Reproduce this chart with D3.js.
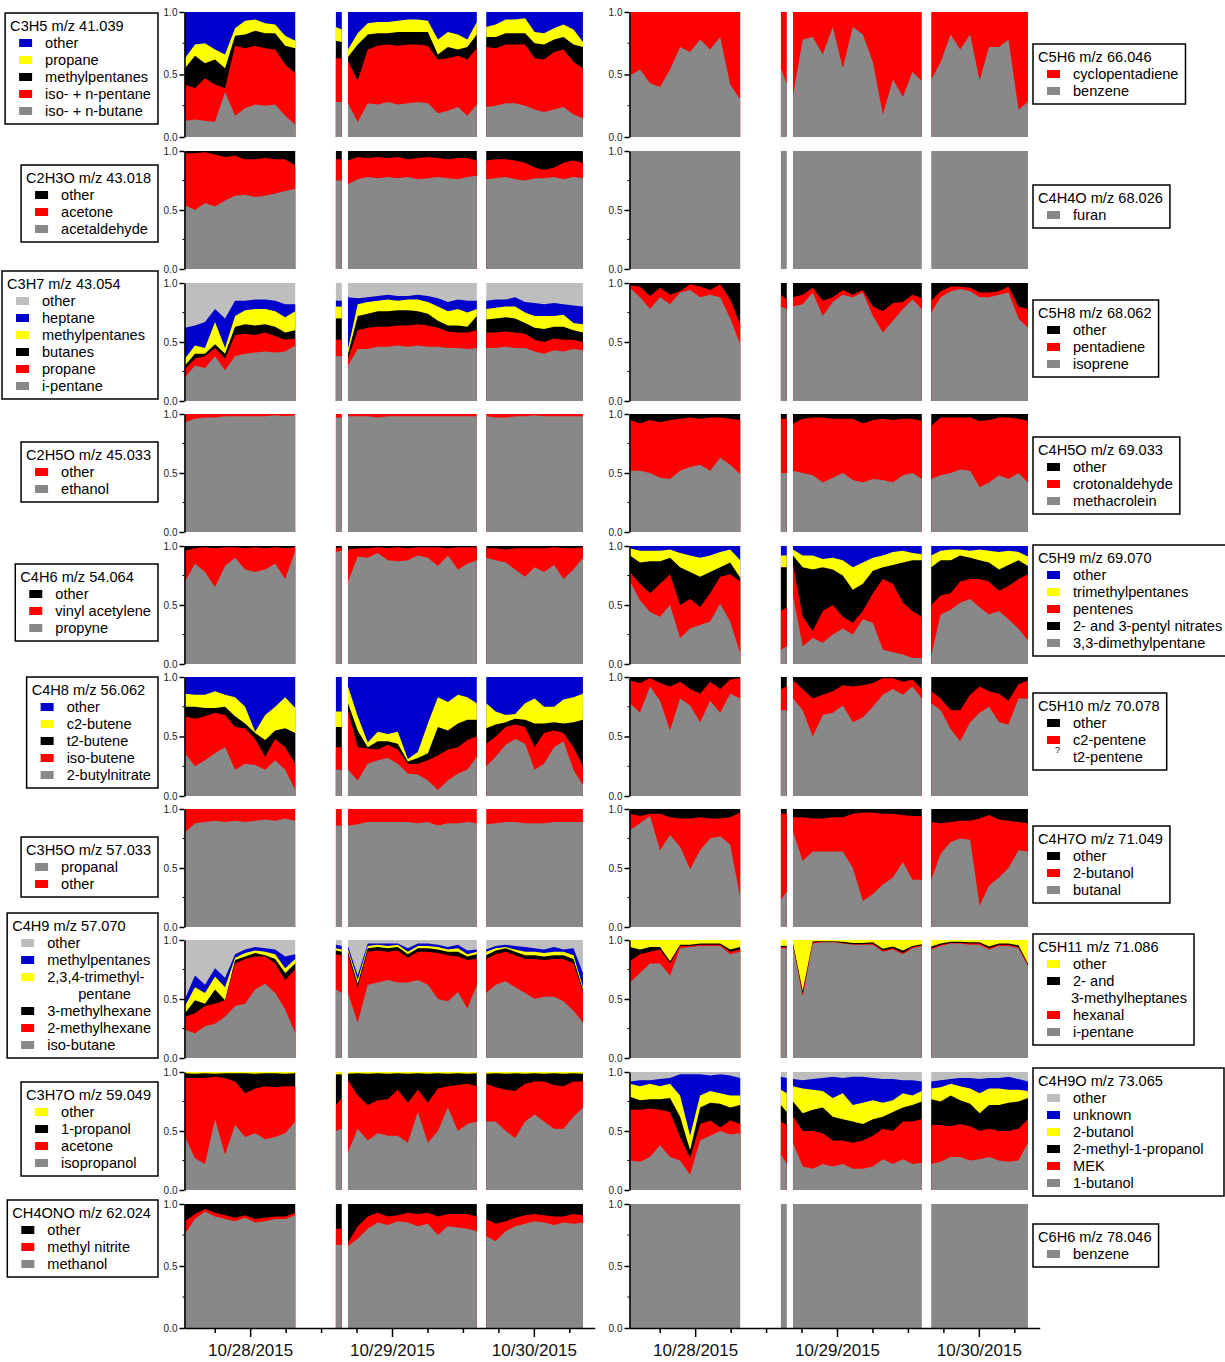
<!DOCTYPE html>
<html>
<head>
<meta charset="utf-8">
<script src="https://cdn.jsdelivr.net/npm/d3@7"></script>
<style>
  body { margin: 0; background: #fff; }
  svg { display: block; }
</style>
</head>
<body>
<div id="chart"></div>
<script>
// ── Sample times, hours from 10/28/2015 00:00 (one block per sampling period) ──
const T_A = [-11.2, -9.5, -7.8, -6.1, -4.4, -2.7, -1.0, 0.7, 2.4, 4.1, 5.8, 7.5];
const T_S = [14.4, 15.4];
const T_B = [16.45, 18.1, 19.8, 21.5, 23.2, 24.9, 26.6, 28.3, 30.0, 31.7, 33.4, 35.1, 36.7, 38.3];
const T_C = [39.9, 41.5, 43.2, 44.8, 46.5, 48.1, 49.7, 51.4, 53.0, 54.7, 56.3];
const AXIS_END = 58.3;
const DATE_LABELS = ['10/28/2015', '10/29/2015', '10/30/2015'];

// ── Cumulative fraction at the top of each layer (bottom layer first) ─────────
// every array: 12 values for T_A | 2 for T_S | 14 for T_B | 11 for T_C

// C3H5 m/z 41.039
const C3H5_1 = [0.13,0.14,0.13,0.12,0.36,0.17,0.23,0.26,0.25,0.26,0.17,0.10, 0.28,0.28, 0.27,0.12,0.27,0.26,0.28,0.26,0.27,0.28,0.27,0.19,0.21,0.24,0.17,0.26, 0.24,0.25,0.27,0.27,0.25,0.22,0.20,0.22,0.24,0.18,0.15];
const C3H5_2 = [0.42,0.39,0.47,0.42,0.39,0.73,0.71,0.73,0.71,0.70,0.58,0.51, 0.63,0.63, 0.61,0.45,0.70,0.73,0.74,0.73,0.74,0.74,0.73,0.62,0.63,0.65,0.62,0.71, 0.72,0.71,0.74,0.74,0.74,0.63,0.62,0.68,0.70,0.60,0.55];
const C3H5_3 = [0.55,0.65,0.59,0.62,0.55,0.81,0.82,0.85,0.83,0.83,0.73,0.71, 0.77,0.76, 0.64,0.74,0.82,0.83,0.83,0.84,0.84,0.84,0.84,0.66,0.72,0.70,0.72,0.82, 0.80,0.80,0.83,0.83,0.83,0.75,0.74,0.78,0.80,0.74,0.72];
const C3H5_4 = [0.63,0.74,0.75,0.70,0.66,0.87,0.93,0.94,0.91,0.90,0.81,0.77, 0.88,0.86, 0.70,0.83,0.91,0.92,0.92,0.93,0.94,0.94,0.93,0.78,0.84,0.82,0.78,0.92, 0.88,0.90,0.94,0.94,0.95,0.84,0.83,0.87,0.90,0.86,0.76];

// C2H3O m/z 43.018
const C2H3O_1 = [0.54,0.50,0.56,0.53,0.58,0.62,0.63,0.61,0.62,0.64,0.66,0.68, 0.75,0.75, 0.72,0.76,0.78,0.77,0.78,0.77,0.78,0.76,0.77,0.78,0.77,0.76,0.78,0.79, 0.76,0.77,0.78,0.76,0.75,0.77,0.77,0.78,0.76,0.78,0.77];
const C2H3O_2 = [0.98,0.98,0.99,0.97,0.95,0.96,0.93,0.93,0.94,0.93,0.93,0.88, 0.93,0.93, 0.92,0.95,0.94,0.95,0.94,0.95,0.93,0.94,0.95,0.94,0.93,0.94,0.94,0.92, 0.92,0.93,0.93,0.92,0.90,0.86,0.84,0.86,0.90,0.92,0.90];

// C3H7 m/z 43.054
const C3H7_1 = [0.20,0.30,0.28,0.38,0.26,0.38,0.40,0.41,0.42,0.41,0.42,0.47, 0.38,0.38, 0.30,0.44,0.44,0.46,0.46,0.47,0.46,0.47,0.46,0.46,0.45,0.45,0.44,0.45, 0.45,0.45,0.46,0.45,0.45,0.42,0.40,0.43,0.42,0.44,0.43];
const C3H7_2 = [0.27,0.36,0.38,0.45,0.36,0.56,0.57,0.56,0.58,0.55,0.52,0.53, 0.52,0.52, 0.36,0.60,0.62,0.63,0.63,0.64,0.64,0.65,0.64,0.62,0.59,0.58,0.58,0.60, 0.58,0.58,0.59,0.58,0.57,0.52,0.50,0.53,0.52,0.52,0.50];
const C3H7_3 = [0.30,0.40,0.40,0.48,0.40,0.63,0.65,0.64,0.65,0.63,0.58,0.60, 0.70,0.70, 0.40,0.72,0.74,0.76,0.76,0.77,0.77,0.76,0.74,0.68,0.64,0.64,0.63,0.72, 0.69,0.70,0.71,0.70,0.66,0.62,0.61,0.63,0.63,0.60,0.58];
const C3H7_4 = [0.36,0.47,0.45,0.67,0.45,0.72,0.77,0.78,0.78,0.76,0.71,0.76, 0.80,0.80, 0.44,0.82,0.84,0.85,0.86,0.85,0.86,0.86,0.84,0.80,0.76,0.78,0.75,0.78, 0.78,0.79,0.80,0.80,0.75,0.72,0.72,0.72,0.73,0.66,0.65];
const C3H7_5 = [0.62,0.64,0.67,0.78,0.70,0.85,0.85,0.86,0.86,0.85,0.82,0.82, 0.85,0.85, 0.88,0.87,0.88,0.89,0.90,0.89,0.89,0.90,0.89,0.87,0.84,0.86,0.85,0.85, 0.85,0.86,0.86,0.88,0.84,0.83,0.82,0.83,0.82,0.81,0.80];

// C2H5O m/z 45.033
const C2H5O_1 = [0.93,0.96,0.97,0.97,0.98,0.98,0.98,0.98,0.98,0.99,0.98,0.99, 0.97,0.97, 0.98,0.98,0.98,0.97,0.98,0.98,0.98,0.98,0.98,0.98,0.98,0.98,0.98,0.98, 0.98,0.97,0.97,0.98,0.98,0.99,0.98,0.98,0.98,0.98,0.98];

// C4H6 m/z 54.064
const C4H6_1 = [0.70,0.85,0.78,0.65,0.83,0.90,0.80,0.78,0.80,0.85,0.72,0.96, 0.95,0.96, 0.70,0.91,0.90,0.94,0.88,0.87,0.88,0.92,0.90,0.83,0.92,0.80,0.85,0.88, 0.90,0.88,0.86,0.80,0.74,0.82,0.78,0.84,0.72,0.80,0.90];
const C4H6_2 = [0.96,0.98,0.99,0.98,0.99,0.99,0.98,0.99,0.98,0.99,0.98,0.99, 0.98,0.99, 0.97,0.98,0.98,0.99,0.98,0.99,0.98,0.99,0.99,0.99,0.98,0.99,0.99,0.99, 0.98,0.98,0.97,0.98,0.98,0.98,0.98,0.99,0.98,0.98,0.99];

// C4H8 m/z 56.062
const C4H8_1 = [0.36,0.25,0.30,0.36,0.41,0.22,0.27,0.26,0.22,0.30,0.22,0.05, 0.22,0.22, 0.22,0.13,0.27,0.30,0.32,0.27,0.19,0.18,0.13,0.05,0.13,0.19,0.22,0.33, 0.25,0.33,0.43,0.48,0.44,0.22,0.27,0.41,0.46,0.22,0.09];
const C4H8_2 = [0.67,0.65,0.67,0.70,0.68,0.58,0.57,0.48,0.33,0.48,0.41,0.27, 0.41,0.41, 0.72,0.41,0.40,0.39,0.43,0.39,0.27,0.27,0.30,0.34,0.39,0.41,0.47,0.50, 0.44,0.50,0.58,0.60,0.58,0.41,0.53,0.55,0.53,0.41,0.25];
const C4H8_3 = [0.75,0.75,0.74,0.74,0.75,0.67,0.61,0.53,0.47,0.55,0.57,0.53, 0.58,0.58, 0.78,0.55,0.41,0.46,0.46,0.44,0.29,0.32,0.36,0.58,0.55,0.61,0.64,0.64, 0.57,0.60,0.62,0.65,0.64,0.61,0.61,0.62,0.61,0.62,0.64];
const C4H8_4 = [0.86,0.85,0.85,0.88,0.85,0.83,0.75,0.54,0.68,0.75,0.83,0.74, 0.71,0.71, 0.92,0.67,0.45,0.54,0.52,0.54,0.31,0.37,0.61,0.83,0.79,0.85,0.83,0.78, 0.78,0.71,0.68,0.69,0.78,0.82,0.75,0.75,0.81,0.83,0.86];

// C3H5O m/z 57.033
const C3H5O_1 = [0.80,0.88,0.89,0.90,0.89,0.90,0.89,0.90,0.91,0.90,0.92,0.90, 0.86,0.86, 0.86,0.87,0.89,0.89,0.89,0.89,0.89,0.88,0.89,0.86,0.88,0.88,0.89,0.88, 0.87,0.88,0.89,0.89,0.88,0.88,0.88,0.89,0.89,0.89,0.89];

// C4H9 m/z 57.070
const C4H9_1 = [0.24,0.21,0.27,0.29,0.35,0.44,0.46,0.58,0.63,0.55,0.41,0.21, 0.58,0.55, 0.55,0.30,0.62,0.64,0.66,0.64,0.64,0.66,0.62,0.50,0.48,0.56,0.42,0.62, 0.55,0.62,0.65,0.60,0.55,0.50,0.52,0.52,0.48,0.40,0.30];
const C4H9_2 = [0.35,0.38,0.44,0.46,0.49,0.80,0.84,0.86,0.86,0.80,0.66,0.75, 0.88,0.87, 0.87,0.60,0.90,0.91,0.90,0.91,0.85,0.90,0.90,0.89,0.87,0.86,0.83,0.84, 0.84,0.88,0.90,0.87,0.84,0.84,0.83,0.84,0.84,0.80,0.56];
const C4H9_3 = [0.38,0.49,0.46,0.58,0.49,0.83,0.86,0.89,0.87,0.84,0.72,0.80, 0.91,0.90, 0.90,0.63,0.93,0.94,0.93,0.94,0.88,0.93,0.93,0.92,0.90,0.90,0.86,0.88, 0.87,0.91,0.93,0.90,0.87,0.87,0.86,0.87,0.87,0.84,0.58];
const C4H9_4 = [0.44,0.60,0.55,0.69,0.60,0.85,0.89,0.91,0.90,0.88,0.76,0.84, 0.93,0.92, 0.92,0.66,0.95,0.96,0.95,0.96,0.90,0.95,0.95,0.94,0.92,0.93,0.88,0.90, 0.90,0.93,0.94,0.92,0.90,0.90,0.89,0.90,0.90,0.87,0.60];
const C4H9_5 = [0.50,0.70,0.62,0.76,0.68,0.88,0.92,0.94,0.93,0.92,0.86,0.88, 0.96,0.95, 0.95,0.70,0.97,0.97,0.97,0.97,0.93,0.97,0.97,0.96,0.94,0.96,0.91,0.92, 0.92,0.95,0.96,0.95,0.94,0.93,0.92,0.94,0.92,0.93,0.72];

// C3H7O m/z 59.049
const C3H7O_1 = [0.45,0.27,0.22,0.60,0.30,0.55,0.45,0.48,0.43,0.45,0.48,0.58, 0.50,0.52, 0.32,0.52,0.42,0.48,0.46,0.46,0.40,0.66,0.40,0.50,0.70,0.50,0.56,0.58, 0.58,0.58,0.50,0.44,0.58,0.64,0.58,0.52,0.52,0.62,0.70];
const C3H7O_2 = [0.95,0.95,0.95,0.96,0.95,0.92,0.82,0.86,0.88,0.87,0.88,0.88, 0.72,0.78, 0.93,0.80,0.72,0.76,0.77,0.85,0.74,0.85,0.74,0.86,0.88,0.89,0.90,0.88, 0.90,0.87,0.85,0.84,0.90,0.92,0.92,0.89,0.88,0.92,0.92];
const C3H7O_3 = [0.99,0.985,0.99,0.985,0.99,0.99,0.99,0.985,0.99,0.99,0.985,0.99, 0.98,0.98, 0.985,0.99,0.985,0.99,0.985,0.99,0.985,0.99,0.985,0.99,0.985,0.99,0.985,0.99, 0.985,0.99,0.985,0.99,0.985,0.99,0.985,0.99,0.985,0.99,0.985];

// CH4ONO m/z 62.024
const CH4ONO_1 = [0.76,0.88,0.94,0.90,0.88,0.86,0.89,0.85,0.86,0.88,0.88,0.91, 0.67,0.67, 0.66,0.72,0.80,0.85,0.83,0.86,0.85,0.82,0.84,0.75,0.82,0.81,0.80,0.78, 0.74,0.70,0.78,0.82,0.84,0.86,0.85,0.83,0.85,0.84,0.85];
const CH4ONO_2 = [0.86,0.92,0.96,0.93,0.91,0.89,0.91,0.88,0.89,0.90,0.90,0.93, 0.80,0.80, 0.69,0.82,0.90,0.93,0.90,0.91,0.93,0.92,0.93,0.90,0.92,0.92,0.92,0.90, 0.88,0.84,0.86,0.89,0.91,0.92,0.91,0.90,0.90,0.92,0.91];

// C5H6 m/z 66.046
const C5H6_1 = [0.49,0.54,0.43,0.40,0.54,0.72,0.68,0.78,0.70,0.80,0.42,0.30, 0.55,0.42, 0.33,0.78,0.80,0.66,0.88,0.55,0.88,0.82,0.60,0.18,0.46,0.32,0.52,0.45, 0.46,0.60,0.82,0.70,0.82,0.45,0.72,0.72,0.78,0.22,0.28];

// C5H8 m/z 68.062
const C5H8_1 = [0.96,0.88,0.78,0.88,0.82,0.92,0.94,0.88,0.90,0.88,0.70,0.48, 0.80,0.78, 0.80,0.82,0.92,0.72,0.84,0.90,0.88,0.92,0.72,0.58,0.68,0.78,0.86,0.78, 0.75,0.88,0.93,0.95,0.93,0.88,0.88,0.90,0.92,0.70,0.62];
const C5H8_2 = [0.98,0.97,0.89,0.96,0.90,0.93,0.99,0.97,0.94,0.99,0.86,0.65, 0.90,0.86, 0.88,0.90,0.96,0.85,0.88,0.94,0.90,0.94,0.80,0.76,0.83,0.84,0.90,0.87, 0.85,0.93,0.97,0.97,0.96,0.92,0.92,0.93,0.97,0.80,0.78];

// C4H5O m/z 69.033
const C4H5O_1 = [0.52,0.52,0.50,0.46,0.45,0.52,0.55,0.57,0.52,0.63,0.57,0.49, 0.50,0.50, 0.52,0.50,0.48,0.42,0.46,0.50,0.44,0.42,0.45,0.44,0.42,0.48,0.50,0.45, 0.45,0.48,0.50,0.53,0.52,0.38,0.42,0.48,0.45,0.50,0.42];
const C4H5O_2 = [0.95,0.92,0.95,0.93,0.95,0.96,0.97,0.96,0.97,0.97,0.96,0.95, 0.96,0.96, 0.92,0.96,0.97,0.97,0.96,0.96,0.96,0.92,0.95,0.96,0.95,0.96,0.96,0.94, 0.90,0.97,0.97,0.97,0.97,0.94,0.95,0.97,0.97,0.96,0.94];

// C5H9 m/z 69.070
const C5H9_1 = [0.70,0.54,0.44,0.40,0.50,0.22,0.30,0.33,0.36,0.51,0.36,0.09, 0.12,0.15, 0.58,0.15,0.22,0.18,0.25,0.30,0.25,0.38,0.35,0.12,0.10,0.08,0.05,0.05, 0.07,0.42,0.46,0.52,0.55,0.48,0.42,0.45,0.38,0.30,0.20];
const C5H9_2 = [0.78,0.68,0.60,0.68,0.76,0.50,0.55,0.48,0.60,0.74,0.76,0.70, 0.45,0.48, 0.85,0.40,0.28,0.45,0.50,0.40,0.35,0.45,0.60,0.72,0.68,0.52,0.45,0.40, 0.50,0.58,0.60,0.70,0.72,0.72,0.70,0.62,0.66,0.72,0.76];
const C5H9_3 = [0.92,0.86,0.87,0.87,0.90,0.82,0.78,0.74,0.78,0.82,0.86,0.73, 0.82,0.82, 0.92,0.82,0.80,0.82,0.80,0.75,0.63,0.68,0.79,0.82,0.84,0.86,0.88,0.88, 0.82,0.88,0.88,0.92,0.90,0.88,0.86,0.80,0.84,0.88,0.83];
const C5H9_4 = [0.98,0.96,0.96,0.96,0.97,0.94,0.92,0.90,0.92,0.95,0.97,0.88, 0.92,0.92, 0.97,0.92,0.92,0.89,0.90,0.88,0.82,0.86,0.90,0.92,0.95,0.96,0.94,0.93, 0.92,0.96,0.97,0.97,0.96,0.97,0.96,0.95,0.96,0.95,0.91];

// C5H10 m/z 70.078
const C5H10_1 = [0.78,0.70,0.92,0.80,0.55,0.82,0.76,0.62,0.80,0.70,0.86,0.82, 0.72,0.72, 0.82,0.72,0.50,0.68,0.70,0.76,0.62,0.66,0.75,0.85,0.90,0.85,0.92,0.82, 0.78,0.72,0.56,0.46,0.62,0.70,0.75,0.62,0.60,0.82,0.82];
const C5H10_2 = [0.97,0.95,0.99,0.95,0.92,0.96,0.90,0.86,0.96,0.90,0.98,0.99, 0.90,0.92, 0.97,0.90,0.82,0.85,0.88,0.93,0.92,0.93,0.95,0.99,0.99,0.96,0.98,0.90, 0.88,0.82,0.72,0.72,0.85,0.92,0.88,0.86,0.80,0.94,0.97];

// C4H7O m/z 71.049
const C4H7O_1 = [0.82,0.88,0.94,0.65,0.78,0.68,0.49,0.65,0.75,0.77,0.70,0.25, 0.23,0.30, 0.81,0.56,0.64,0.64,0.64,0.64,0.50,0.22,0.28,0.36,0.42,0.55,0.40,0.40, 0.40,0.62,0.72,0.75,0.74,0.18,0.35,0.42,0.50,0.65,0.64];
const C4H7O_2 = [0.96,0.94,0.96,0.96,0.93,0.92,0.92,0.93,0.92,0.92,0.93,0.97, 0.96,0.96, 0.93,0.93,0.92,0.92,0.93,0.93,0.96,0.97,0.97,0.96,0.96,0.95,0.94,0.94, 0.89,0.88,0.89,0.90,0.90,0.92,0.95,0.91,0.90,0.89,0.88];

// C5H11 m/z 71.086
const C5H11_1 = [0.64,0.72,0.80,0.80,0.70,0.93,0.94,0.95,0.95,0.95,0.88,0.90, 0.93,0.93, 0.95,0.52,0.97,0.98,0.98,0.97,0.96,0.96,0.96,0.90,0.92,0.88,0.93,0.95, 0.92,0.95,0.97,0.97,0.96,0.96,0.92,0.95,0.95,0.93,0.78];
const C5H11_2 = [0.82,0.88,0.90,0.92,0.80,0.95,0.95,0.96,0.96,0.96,0.90,0.92, 0.94,0.94, 0.96,0.55,0.98,0.985,0.985,0.975,0.965,0.965,0.97,0.91,0.93,0.89,0.94,0.955, 0.93,0.96,0.975,0.975,0.97,0.97,0.93,0.96,0.96,0.94,0.79];
const C5H11_3 = [0.94,0.92,0.94,0.94,0.82,0.96,0.96,0.97,0.97,0.97,0.92,0.94, 0.95,0.95, 0.97,0.57,0.99,0.99,0.99,0.985,0.975,0.975,0.98,0.925,0.945,0.91,0.95,0.965, 0.945,0.97,0.985,0.985,0.98,0.98,0.945,0.97,0.97,0.955,0.80];

// C4H9O m/z 73.065
const C4H9O_1 = [0.25,0.24,0.28,0.38,0.28,0.25,0.13,0.42,0.46,0.50,0.47,0.48, 0.30,0.22, 0.40,0.20,0.18,0.22,0.20,0.22,0.18,0.18,0.20,0.26,0.22,0.26,0.22,0.23, 0.22,0.24,0.28,0.28,0.25,0.26,0.28,0.25,0.24,0.25,0.40];
const C4H9O_2 = [0.68,0.68,0.69,0.68,0.66,0.45,0.27,0.56,0.59,0.53,0.59,0.56, 0.58,0.55, 0.62,0.50,0.50,0.48,0.42,0.42,0.40,0.42,0.46,0.52,0.50,0.58,0.58,0.60, 0.55,0.55,0.54,0.56,0.54,0.50,0.52,0.50,0.50,0.52,0.60];
const C4H9O_3 = [0.79,0.76,0.77,0.77,0.78,0.62,0.34,0.70,0.74,0.73,0.70,0.72, 0.72,0.66, 0.75,0.65,0.68,0.70,0.62,0.60,0.58,0.56,0.60,0.62,0.66,0.70,0.72,0.75, 0.77,0.75,0.80,0.76,0.73,0.65,0.72,0.72,0.74,0.75,0.78];
const C4H9O_4 = [0.90,0.88,0.90,0.88,0.90,0.80,0.46,0.80,0.84,0.82,0.80,0.80, 0.85,0.82, 0.88,0.86,0.85,0.84,0.78,0.82,0.72,0.74,0.76,0.74,0.76,0.82,0.80,0.84, 0.86,0.87,0.90,0.88,0.86,0.82,0.86,0.86,0.85,0.85,0.84];
const C4H9O_5 = [0.92,0.93,0.93,0.94,0.95,0.98,0.98,0.98,0.97,0.98,0.97,0.95, 0.96,0.95, 0.94,0.93,0.94,0.95,0.96,0.95,0.96,0.96,0.95,0.94,0.94,0.93,0.93,0.92, 0.92,0.93,0.94,0.95,0.95,0.94,0.95,0.95,0.96,0.94,0.92];

// ── Colours ──────────────────────────────────────────────────────────────────
const G = '#888888', R = '#ff0000', K = '#000000', Y = '#ffff00', B = '#0000cc', L = '#bebebe';

// ── Panels: legend text/swatches top→bottom, fills bottom→top ────────────────
const panels = [
  { col: 0, row: 0, title: 'C3H5 m/z 41.039',
    labels: ['other', 'propane', 'methylpentanes', 'iso- + n-pentane', 'iso- + n-butane'],
    swatches: [B, Y, K, R, G], fills: [G, R, K, Y, B], tops: [C3H5_1, C3H5_2, C3H5_3, C3H5_4] },
  { col: 0, row: 1, title: 'C2H3O m/z 43.018',
    labels: ['other', 'acetone', 'acetaldehyde'],
    swatches: [K, R, G], fills: [G, R, K], tops: [C2H3O_1, C2H3O_2] },
  { col: 0, row: 2, title: 'C3H7 m/z 43.054', legW: 156,
    labels: ['other', 'heptane', 'methylpentanes', 'butanes', 'propane', 'i-pentane'],
    swatches: [L, B, Y, K, R, G], fills: [G, R, K, Y, B, L], tops: [C3H7_1, C3H7_2, C3H7_3, C3H7_4, C3H7_5] },
  { col: 0, row: 3, title: 'C2H5O m/z 45.033',
    labels: ['other', 'ethanol'],
    swatches: [R, G], fills: [G, R], tops: [C2H5O_1] },
  { col: 0, row: 4, title: 'C4H6 m/z 54.064',
    labels: ['other', 'vinyl acetylene', 'propyne'],
    swatches: [K, R, G], fills: [G, R, K], tops: [C4H6_1, C4H6_2] },
  { col: 0, row: 5, title: 'C4H8 m/z 56.062',
    labels: ['other', 'c2-butene', 't2-butene', 'iso-butene', '2-butylnitrate'],
    swatches: [B, Y, K, R, G], fills: [G, R, K, Y, B], tops: [C4H8_1, C4H8_2, C4H8_3, C4H8_4] },
  { col: 0, row: 6, title: 'C3H5O m/z 57.033',
    labels: ['propanal', 'other'],
    swatches: [G, R], fills: [G, R], tops: [C3H5O_1] },
  { col: 0, row: 7, title: 'C4H9 m/z 57.070', wrap: 31,
    labels: ['other', 'methylpentanes', '2,3,4-trimethyl-\npentane', '3-methylhexane', '2-methylhexane', 'iso-butane'],
    swatches: [L, B, Y, K, R, G], fills: [G, R, K, Y, B, L], tops: [C4H9_1, C4H9_2, C4H9_3, C4H9_4, C4H9_5] },
  { col: 0, row: 8, title: 'C3H7O m/z 59.049',
    labels: ['other', '1-propanol', 'acetone', 'isopropanol'],
    swatches: [Y, K, R, G], fills: [G, R, K, Y], tops: [C3H7O_1, C3H7O_2, C3H7O_3] },
  { col: 0, row: 9, title: 'CH4ONO m/z 62.024',
    labels: ['other', 'methyl nitrite', 'methanol'],
    swatches: [K, R, G], fills: [G, R, K], tops: [CH4ONO_1, CH4ONO_2] },

  { col: 1, row: 0, title: 'C5H6 m/z 66.046',
    labels: ['cyclopentadiene', 'benzene'],
    swatches: [R, G], fills: [G, R], tops: [C5H6_1] },
  { col: 1, row: 1, title: 'C4H4O m/z 68.026',
    labels: ['furan'], swatches: [G], fills: [G], tops: [] },
  { col: 1, row: 2, title: 'C5H8 m/z 68.062',
    labels: ['other', 'pentadiene', 'isoprene'],
    swatches: [K, R, G], fills: [G, R, K], tops: [C5H8_1, C5H8_2] },
  { col: 1, row: 3, title: 'C4H5O m/z 69.033',
    labels: ['other', 'crotonaldehyde', 'methacrolein'],
    swatches: [K, R, G], fills: [G, R, K], tops: [C4H5O_1, C4H5O_2] },
  { col: 1, row: 4, title: 'C5H9 m/z 69.070', legW: 200,
    labels: ['other', 'trimethylpentanes', 'pentenes', '2- and 3-pentyl nitrates', '3,3-dimethylpentane'],
    swatches: [B, Y, R, K, G], fills: [G, R, K, Y, B], tops: [C5H9_1, C5H9_2, C5H9_3, C5H9_4] },
  { col: 1, row: 5, title: 'C5H10 m/z 70.078',
    labels: ['other', 'c2-pentene', 't2-pentene'],
    swatches: [K, R, null], fills: [G, R, K], tops: [C5H10_1, C5H10_2] },
  { col: 1, row: 6, title: 'C4H7O m/z 71.049',
    labels: ['other', '2-butanol', 'butanal'],
    swatches: [K, R, G], fills: [G, R, K], tops: [C4H7O_1, C4H7O_2] },
  { col: 1, row: 7, title: 'C5H11 m/z 71.086', wrap: -2,
    labels: ['other', '2- and\n3-methylheptanes', 'hexanal', 'i-pentane'],
    swatches: [Y, K, R, G], fills: [G, R, K, Y], tops: [C5H11_1, C5H11_2, C5H11_3] },
  { col: 1, row: 8, title: 'C4H9O m/z 73.065', legW: 191,
    labels: ['other', 'unknown', '2-butanol', '2-methyl-1-propanol', 'MEK', '1-butanol'],
    swatches: [L, B, Y, K, R, G], fills: [G, R, K, Y, B, L], tops: [C4H9O_1, C4H9O_2, C4H9O_3, C4H9O_4, C4H9O_5] },
  { col: 1, row: 9, title: 'C6H6 m/z 78.046',
    labels: ['benzene'], swatches: [G], fills: [G], tops: [] },
];

// ── Layout ───────────────────────────────────────────────────────────────────
const W = 1225, H = 1362;
const ROW_TOP = [12, 151, 283, 414, 546, 677, 809, 940, 1072, 1204];
const ROW_BOT = [137, 269, 401, 532, 664, 796, 927, 1058, 1190, 1328];
const DAY0_X = [251, 696];     // pixel of 10/28 00:00 in each column
const DAY_PX = 141.5;
const LEG_TOP = [[13, 165, 271, 442, 564, 677, 837, 913, 1082, 1200],
                 [44, 185, 300, 437, 545, 693, 826, 934, 1068, 1224]];
const LEG_RIGHT = 158, LEG_LEFT = 1033;
const FONT = 'Arial, "Liberation Sans", sans-serif';

const T = T_A.concat(T_S, T_B, T_C);
const SEGS = [[0, 12], [12, 14], [14, 28], [28, 39]];

const svg = d3.select('#chart').append('svg')
  .attr('width', W).attr('height', H)
  .style('font-family', FONT);

const xScale = col => d3.scaleLinear().domain([0, 24]).range([DAY0_X[col], DAY0_X[col] + DAY_PX]);

// ── Stacked areas + y axis ───────────────────────────────────────────────────
panels.forEach(p => {
  p.tops.forEach(a => { if (a.length !== T.length) throw new Error(p.title + ' length ' + a.length); });
  const x = xScale(p.col);
  const y = d3.scaleLinear().domain([0, 1]).range([ROW_BOT[p.row], ROW_TOP[p.row]]);
  const g = svg.append('g');
  const n = p.fills.length;

  // paint from the top layer down, each area from 0 to its cumulative top
  SEGS.forEach(([a, b]) => {
    const idx = d3.range(a, b);
    for (let k = n - 1; k >= 0; k--) {
      const top = k === n - 1 ? () => 1 : i => p.tops[k][i];
      g.append('path').datum(idx)
        .attr('d', d3.area().x(i => x(T[i])).y0(y(0)).y1(i => y(top(i))))
        .attr('fill', p.fills[k]);
    }
  });

  const ax = g.append('g')
    .attr('transform', `translate(${x(T_A[0]) - 0.5},0)`)
    .call(d3.axisLeft(y).tickValues([0, 0.5, 1]).tickFormat(d3.format('.1f'))
      .tickSize(5).tickSizeOuter(0).tickPadding(2))
    .attr('font-family', null);
  ax.select('.domain').attr('stroke-width', 1.6);
  ax.selectAll('.tick line').attr('stroke-width', 1.5);
  ax.selectAll('text').attr('font-size', 10).attr('fill', '#222');
  ax.selectAll('.minor').data([0.25, 0.75]).join('line')
    .attr('x1', -2).attr('x2', 0)
    .attr('y1', d => y(d)).attr('y2', d => y(d))
    .attr('stroke', '#000').attr('stroke-width', 1);
});

// ── Bottom time axes ─────────────────────────────────────────────────────────
[0, 1].forEach(col => {
  const x = xScale(col);
  const xa = d3.scaleLinear().domain([T_A[0], AXIS_END]).range([x(T_A[0]) - 1, x(AXIS_END)]);
  const yb = ROW_BOT[9];

  const major = svg.append('g').attr('transform', `translate(0,${yb})`)
    .call(d3.axisBottom(xa).tickValues([0, 24, 48])
      .tickFormat(d => DATE_LABELS[d / 24]).tickSize(9).tickSizeOuter(0).tickPadding(7))
    .attr('font-family', null);
  major.select('.domain').attr('stroke-width', 1.6);
  major.selectAll('.tick line').attr('stroke-width', 1.5);
  major.selectAll('text').attr('font-size', 17).attr('fill', '#111');

  const minor = svg.append('g').attr('transform', `translate(0,${yb})`)
    .call(d3.axisBottom(xa).tickValues([-6, 6, 12, 18, 30, 36, 42, 54])
      .tickFormat('').tickSize(5).tickSizeOuter(0));
  minor.select('.domain').remove();
  minor.selectAll('.tick line').attr('stroke-width', 1.5);
});

// ── Legends ──────────────────────────────────────────────────────────────────
panels.forEach(p => {
  const top = LEG_TOP[p.col][p.row];
  const g = svg.append('g').attr('font-size', 14.6).attr('fill', '#000');
  const texts = [];
  let base = top + 18;
  texts.push(g.append('text').attr('x', 5).attr('y', base).text(p.title));

  p.labels.forEach((lab, i) => {
    lab.split('\n').forEach((line, j) => {
      base += 17;
      const tx = j === 0 ? 40 : 40 + (p.wrap || 0);
      texts.push(g.append('text').attr('x', tx).attr('y', base).text(line));
      if (j > 0) return;
      if (p.swatches[i]) {
        g.append('rect').attr('x', 14).attr('y', base - 9)
          .attr('width', 13).attr('height', 8).attr('fill', p.swatches[i]);
      } else {
        g.append('text').attr('x', 22).attr('y', base - 9)
          .attr('font-size', 9).text('?');
      }
    });
  });

  const fit = d3.max(texts, t => +t.attr('x') + t.node().getComputedTextLength()) + 7;
  const w = p.legW || fit;
  const h = base - top + 8;
  g.insert('rect', ':first-child')
    .attr('x', 0).attr('y', top).attr('width', w).attr('height', h)
    .attr('fill', '#fff').attr('stroke', '#000').attr('stroke-width', 1.5);
  const left = p.col === 0 ? LEG_RIGHT - w : LEG_LEFT;
  g.attr('transform', `translate(${left},0)`);
});
</script>
</body>
</html>
